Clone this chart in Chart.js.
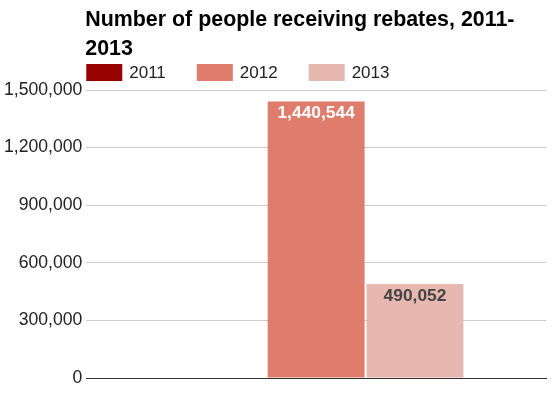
<!DOCTYPE html>
<html>
<head>
<meta charset="utf-8">
<script src="https://cdn.jsdelivr.net/npm/chart.js@4/dist/chart.umd.min.js"></script>
<style>
  html, body { margin: 0; padding: 0; background: #fff; }
  #wrap { position: relative; width: 553px; height: 398px; }
</style>
</head>
<body>
<div id="wrap"><canvas id="chart"></canvas></div>
<script>
const titleLines = ["Number of people receiving rebates, 2011-", "2013"];
const categories = [""];
const seriesNames = ["2011", "2012", "2013"];
const values2011 = [0];
const values2012 = [1440544];
const values2013 = [490052];
const yMax = 1500000;
const yStep = 300000;

const FONT = "'Liberation Sans', Arial, sans-serif";
const colors = ["#990000", "#de7d6b", "#e6b8b0"];
const labelColors = ["#ffffff", "#ffffff", "#444444"];

const fmt = v => v.toLocaleString("en-US");

// title, legend and value labels drawn straight onto the canvas
const decorations = {
  id: "decorations",
  afterDraw(chart) {
    const ctx = chart.ctx;
    const left = chart.chartArea.left;
    ctx.save();

    ctx.fillStyle = "#000";
    ctx.font = "bold 21.4px " + FONT;
    ctx.textAlign = "left";
    ctx.textBaseline = "alphabetic";
    ctx.fillText(titleLines[0], left - 1, 26);
    ctx.fillText(titleLines[1], left - 1, 55);

    ctx.font = "17px " + FONT;
    let x = left;
    chart.data.datasets.forEach(ds => {
      ctx.fillStyle = ds.backgroundColor;
      ctx.fillRect(x, 64, 36, 17);
      ctx.fillStyle = "#222";
      ctx.fillText(ds.label, x + 43, 78);
      x += 43 + ctx.measureText(ds.label).width + 31;
    });

    ctx.font = "bold 17.4px " + FONT;
    ctx.textAlign = "center";
    chart.data.datasets.forEach((ds, i) => {
      chart.getDatasetMeta(i).data.forEach((bar, j) => {
        const v = ds.data[j];
        if (!v) return;
        ctx.fillStyle = labelColors[i];
        ctx.fillText(fmt(v), bar.x, bar.y + 17);
      });
    });
    ctx.restore();
  }
};

const seriesValues = [values2011, values2012, values2013];

new Chart(document.getElementById("chart"), {
  type: "bar",
  data: {
    labels: categories,
    datasets: seriesNames.map((name, i) => ({
      label: name,
      data: seriesValues[i],
      backgroundColor: colors[i],
      categoryPercentage: 0.645,
      barPercentage: 0.98
    }))
  },
  options: {
    responsive: true,
    maintainAspectRatio: false,
    animation: false,
    layout: { padding: { top: 90, right: 7, bottom: 20, left: 0 } },
    plugins: {
      legend: { display: false },
      title: { display: false },
      tooltip: { enabled: false }
    },
    scales: {
      x: {
        ticks: { display: false },
        grid: { display: false, drawTicks: false },
        border: { color: "#333", width: 1 }
      },
      y: {
        min: 0,
        max: yMax,
        ticks: {
          stepSize: yStep,
          padding: 4,
          color: "#222",
          font: { family: FONT, size: 17.6 },
          callback: v => fmt(v)
        },
        grid: { color: "#cccccc", drawTicks: false },
        border: { display: false }
      }
    }
  },
  plugins: [decorations]
});
</script>
</body>
</html>
